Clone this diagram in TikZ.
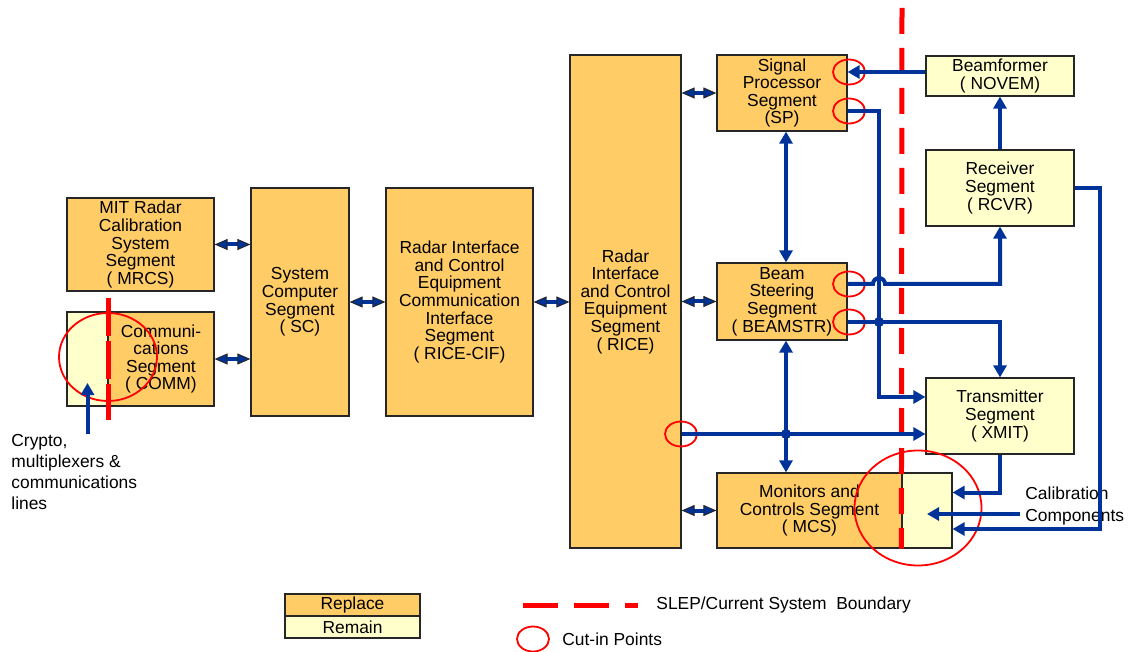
\documentclass[tikz,border=0pt]{standalone}
\usepackage{fontspec}
\setmainfont{Liberation Sans}
\usepackage{xcolor}
\usetikzlibrary{positioning,arrows.meta,shapes.geometric}

\definecolor{replace}{RGB}{255,204,102}
\definecolor{remain}{RGB}{255,255,204}
\definecolor{linkblue}{RGB}{0,51,153}
\definecolor{cutred}{RGB}{255,0,0}

\tikzset{
  keytip/.tip={Triangle[width=5.5pt,length=6.5pt,fill=linkblue,color=black!85,line width=0.5pt]},
  bigtip/.tip={Triangle[width=6.5pt,length=6pt]}
}

\begin{document}
\begin{tikzpicture}[
  x=0.5pt, y=-0.5pt,
  every node/.style={font=\fontsize{8.7}{8.8}\selectfont},
  seg/.style={draw=black!85, line width=0.6pt, fill=replace, align=center, inner sep=1pt},
  kept/.style={seg, fill=remain},
  link/.style={draw=linkblue, line width=2pt},
  arrow/.style={link, -bigtip},
  bigway/.style={link, bigtip-bigtip},
  twoway/.style={link, keytip-keytip},
  boundary/.style={draw=cutred, line width=2.5pt, dash pattern=on 13pt off 7pt},
  cutin/.style={ellipse, draw=cutred, line width=0.9pt, minimum width=16pt, minimum height=12.5pt, inner sep=0pt}
]
\useasboundingbox (0,0) rectangle (1130,652);

% segments
\node[seg, minimum width=73.5pt, minimum height=46.5pt] (mrcs) at (140.5,244.5) {MIT Radar\\Calibration\\System\\Segment\\( MRCS)};
\node[kept, minimum width=20.5pt, minimum height=47pt] (commx) at (87.5,359) {};
\node[seg, minimum width=53pt, minimum height=47pt] (comm) at (161,359) {Communi-\\cations\\Segment\\( COMM)};
\node[seg, minimum width=49pt, minimum height=114pt] (sc) at (300,302) {System\\Computer\\Segment\\( SC)};
\node[seg, minimum width=73.5pt, minimum height=114pt] (ricecif) at (459.5,302) {Radar Interface\\and Control\\Equipment\\Communication\\Interface\\Segment\\( RICE-CIF)};
\node[seg, minimum width=55.5pt, minimum height=246.5pt] (rice) at (625.5,301.5) {Radar\\Interface\\and Control\\Equipment\\Segment\\( RICE)};
\node[seg, minimum width=65pt, minimum height=38pt] (sp) at (782,93) {Signal\\Processor\\Segment\\(SP)};
\node[seg, minimum width=65pt, minimum height=38.5pt] (beam) at (782,301.5) {Beam\\Steering\\Segment\\( BEAMSTR)};
\node[seg, minimum width=92.5pt, minimum height=37.5pt] (mcs) at (809.5,510.5) {Monitors and\\Controls Segment\\( MCS)};
\node[kept, minimum width=25pt, minimum height=37.5pt] (mcsx) at (927,510.5) {};
\node[kept, minimum width=74pt, minimum height=20pt] (novem) at (1000,76) {Beamformer\\( NOVEM)};
\node[kept, minimum width=74pt, minimum height=38pt] (rcvr) at (1000,188) {Receiver\\Segment\\( RCVR)};
\node[kept, minimum width=74pt, minimum height=38pt] (xmit) at (1000,416) {Transmitter\\Segment\\( XMIT)};

\node[anchor=north west, align=left, inner sep=0pt, font=\fontsize{8.7}{10.5}\selectfont] (crypto) at (11,434) {Crypto,\\multiplexers \&\\communications\\lines};
\node[anchor=west, align=left, inner sep=0pt, font=\fontsize{8.7}{11}\selectfont] (calib) at (1025,506) {Calibration\\Components};

% boundary
\draw[boundary] (902,8) -- (mcsx.south west);
\draw[boundary, dash pattern=on 19pt off 2.5pt] (108,298) -- (108,420);

% links
\draw[twoway] (mrcs.east) -- (mrcs.east -| sc.west);
\draw[twoway] (comm.east) -- (comm.east -| sc.west);
\draw[twoway] (sc.east) -- (ricecif.west);
\draw[twoway] (ricecif.east) -- (ricecif.east -| rice.west);
\draw[twoway] (sp.west -| rice.east) -- (sp.west);
\draw[twoway] (beam.west -| rice.east) -- (beam.west);
\draw[twoway] (mcs.west -| rice.east) -- (mcs.west);
\draw[bigway] ([xshift=2pt]sp.south) -- ([xshift=2pt]beam.north);
\draw[bigway] ([xshift=2pt]beam.south) -- ([xshift=2pt]beam.south |- mcs.north);

% cut-in points
\node[cutin] (spa) at (849,72) {};
\node[cutin] (spb) at (849,111) {};
\node[cutin] (bma) at (849,284) {};
\node[cutin] (bmb) at (849,322) {};
\node[cutin] (ricec) at (681,434) {};
\node[cutin, minimum width=49pt, minimum height=44pt] (commcut) at (108,357) {};
\node[cutin, minimum width=63.5pt, minimum height=57.5pt] (mcscut) at (918,508) {};

\coordinate (bend) at (879,397);
\coordinate (calbus) at (1100,529);
\coordinate (calin) at ([xshift=-2.5pt,yshift=-4pt]calib.west);

\draw[arrow] (novem.west |- spa) -- (sp.east |- spa);
\draw[arrow] (sp.east |- spb) -| (bend) -- (bend -| xmit.west);
\draw[arrow] (beam.east |- bma) -- ([xshift=-3pt]bend |- bma) arc[start angle=180, end angle=0, radius=3pt] -| (rcvr.south);
\draw[arrow] (beam.east |- bmb) -| (xmit.north);
\fill[linkblue] (bend |- bmb) circle[radius=2.5pt];
\draw[arrow] (rice.east |- ricec) -- (xmit.west |- ricec);
\fill[linkblue] ([xshift=2pt]beam.south |- ricec) circle[radius=2.5pt];
\draw[arrow] (rcvr.north) -- (novem.south);
\draw[arrow] (rcvr.east) -| (calbus) -- (calbus -| mcsx.east);
\draw[arrow] (xmit.south) |- ([yshift=9pt]mcsx.east);
\draw[arrow] (calin) -- (calin -| mcsx.center);
\draw[arrow] (commx.center |- crypto.north) -- ([yshift=-12pt]commx.center);

% key
\node[seg, minimum width=67.5pt, minimum height=11pt, inner sep=0pt] (replacekey) at (352.5,605) {Replace};
\node[kept, minimum width=67.5pt, minimum height=11pt, inner sep=0pt] (remainkey) at (352.5,627) {Remain};
\node[anchor=west, inner sep=0pt] (slepkey) at (656,605) {SLEP/Current System\ \ Boundary};
\draw[boundary, dash pattern=on 17.5pt off 8pt] ([xshift=-66.5pt]slepkey.west) -- ([xshift=-9pt]slepkey.west);
\node[cutin] (cutkey) at (533,639) {};
\node[anchor=west, inner sep=0pt] (cutkeytext) at (562,639) {Cut-in Points};
\end{tikzpicture}
\end{document}
